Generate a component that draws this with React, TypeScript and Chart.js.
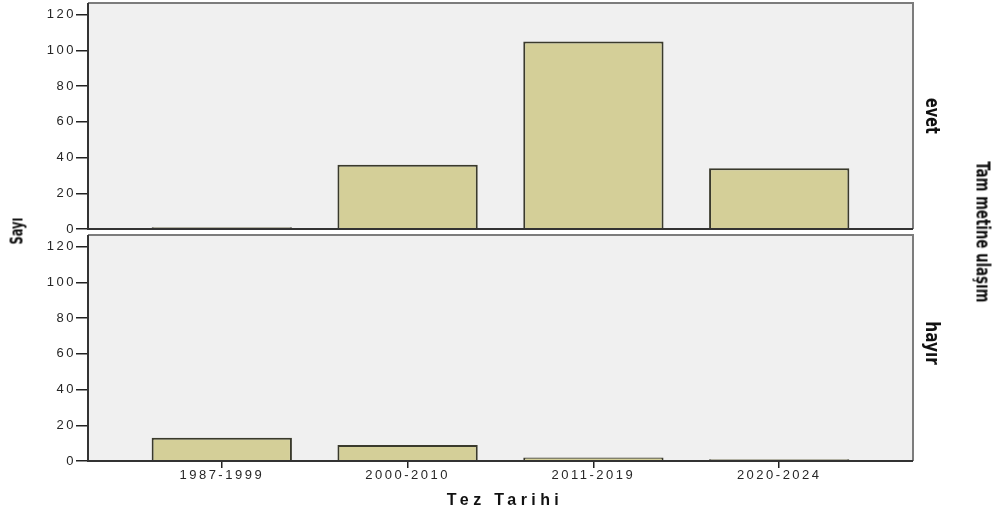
import { useEffect, useRef } from 'react';
import { Chart, registerables } from 'chart.js';

Chart.register(...registerables);

// ---- data ----
const categories = ['1987-1999', '2000-2010', '2011-2019', '2020-2024'];
const evetValues = [1, 36, 105, 34];
const hayirValues = [13, 9, 2, 1];
const yTickValues = [0, 20, 40, 60, 80, 100, 120];
const panelLabels = ['evet', 'hayır'];
const xTitle = 'Tez Tarihi';
const yTitle = 'Sayı';
const panelTitle = 'Tam metine ulaşım';

const Y_MAX = 126.6;
const X_PAD = 0.72;

const FONT = '"Liberation Sans", Arial, sans-serif';
const NARROW = '"Liberation Sans Narrow", "Arial Narrow", "DejaVu Sans Condensed", sans-serif';

const framePlugin = {
  id: 'panelFrame',
  beforeDraw(chart: any) {
    chart.ctx.letterSpacing = '2.5px';
  },
  beforeDatasetsDraw(chart: any) {
    const { ctx, chartArea: a } = chart;
    ctx.save();
    ctx.fillStyle = '#f0f0f0';
    ctx.fillRect(a.left, a.top, a.right - a.left, a.bottom - a.top);
    ctx.restore();
  },
  afterDatasetsDraw(chart: any) {
    const { ctx, chartArea: a } = chart;
    ctx.save();
    ctx.lineWidth = 2;
    ctx.strokeStyle = '#7c7c7c';
    ctx.beginPath();
    ctx.moveTo(a.left, a.top);
    ctx.lineTo(a.right, a.top);
    ctx.lineTo(a.right, a.bottom);
    ctx.stroke();
    ctx.strokeStyle = '#333333';
    ctx.beginPath();
    ctx.moveTo(a.left, a.top);
    ctx.lineTo(a.left, a.bottom);
    ctx.lineTo(a.right, a.bottom);
    ctx.stroke();
    ctx.restore();
  },
};

function makeConfig(values: number[], showX: boolean, padTop: number, padBottom: number): any {
  return {
    type: 'bar',
    data: {
      datasets: [
        {
          data: values.map((v, i) => ({ x: i, y: v })),
          backgroundColor: '#d4cf98',
          borderColor: '#3a3a2c',
          borderWidth: 2,
          barPercentage: 0.755,
          categoryPercentage: 1,
        },
      ],
    },
    options: {
      responsive: false,
      animation: false,
      devicePixelRatio: 1,
      layout: { padding: { left: 0, right: 84, top: padTop, bottom: padBottom } },
      plugins: { legend: { display: false }, tooltip: { enabled: false } },
      scales: {
        x: {
          type: 'linear',
          display: showX,
          offset: false,
          min: -X_PAD,
          max: categories.length - 1 + X_PAD,
          afterBuildTicks: (s: any) => {
            s.ticks = categories.map((_, i) => ({ value: i }));
          },
          afterFit: (s: any) => {
            if (showX) s.height = 54;
            s.paddingLeft = 0;
            s.paddingRight = 0;
          },
          grid: { offset: false, drawOnChartArea: false, tickLength: 7, color: '#222222', lineWidth: 1.5 },
          border: { display: false },
          ticks: {
            callback: (v: any) => categories[v] ?? '',
            font: { family: FONT, size: 13 },
            color: '#262626',
            padding: 0,
            maxRotation: 0,
            autoSkip: false,
          },
        },
        y: {
          min: 0,
          max: Y_MAX,
          afterBuildTicks: (s: any) => {
            s.ticks = yTickValues.map((v) => ({ value: v }));
          },
          afterFit: (s: any) => {
            s.width = 88;
            s.paddingTop = 0;
            s.paddingBottom = 0;
          },
          grid: { drawOnChartArea: false, tickLength: 12, color: '#222222', lineWidth: 1.5 },
          border: { display: false },
          ticks: {
            font: { family: FONT, size: 13 },
            color: '#262626',
            padding: 0,
          },
        },
      },
    },
    plugins: [framePlugin],
  };
}

function Panel(props: { values: number[]; showX: boolean; top: number; height: number; padTop: number; padBottom: number }) {
  const ref = useRef<HTMLCanvasElement>(null);
  useEffect(() => {
    if (!ref.current) return;
    const chart = new Chart(ref.current, makeConfig(props.values, props.showX, props.padTop, props.padBottom));
    return () => chart.destroy();
  }, []);
  return (
    <canvas
      ref={ref}
      width={997}
      height={props.height}
      style={{ position: 'absolute', left: 0, top: props.top, width: 997, height: props.height }}
    />
  );
}

function Rotated(props: { text: string; x: number; y: number; deg: number; size: number; squeeze: number }) {
  return (
    <div
      style={{
        position: 'absolute',
        left: props.x,
        top: props.y,
        transform: `translate(-50%, -50%) rotate(${props.deg}deg) scaleX(${props.squeeze})`,
        whiteSpace: 'nowrap',
        fontFamily: NARROW,
        fontWeight: 'bold',
        fontSize: props.size,
        color: '#111',
        lineHeight: 1,
      }}
    >
      {props.text}
    </div>
  );
}

export default function App() {
  return (
    <div style={{ position: 'fixed', left: 0, top: 0, width: 997, height: 515, background: '#fff', overflow: 'hidden' }}>
      <Panel values={evetValues} showX={false} top={0} height={240} padTop={3} padBottom={11} />
      <Panel values={hayirValues} showX={true} top={225} height={290} padTop={10} padBottom={0} />
      <div
        style={{
          position: 'absolute',
          left: 503,
          top: 500,
          transform: 'translate(-50%, -50%)',
          whiteSpace: 'nowrap',
          fontFamily: FONT,
          fontWeight: 'bold',
          fontSize: 16,
          letterSpacing: 4.4,
          paddingLeft: 4,
          color: '#111',
          lineHeight: 1,
        }}
      >
        {xTitle}
      </div>
      <Rotated text={yTitle} x={17} y={231} deg={-90} size={17} squeeze={0.75} />
      <Rotated text={panelLabels[0]} x={933} y={116} deg={90} size={20} squeeze={0.8} />
      <Rotated text={panelLabels[1]} x={933} y={343} deg={90} size={20} squeeze={0.85} />
      <Rotated text={panelTitle} x={983} y={232} deg={90} size={19} squeeze={0.78} />
    </div>
  );
}
